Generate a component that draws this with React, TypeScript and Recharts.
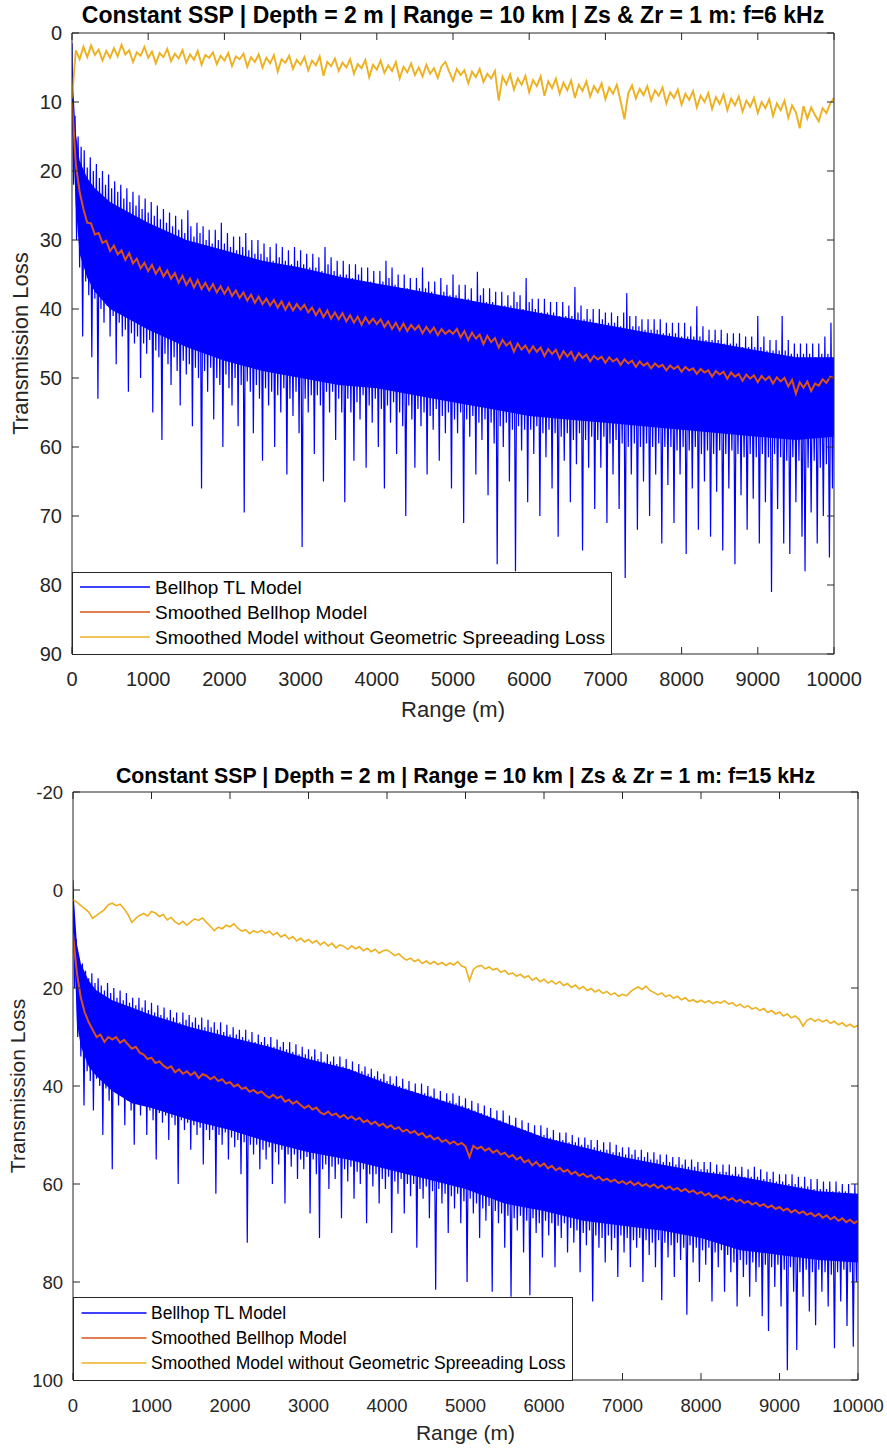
import React from 'react';
import { ComposedChart, Line, Area, XAxis, YAxis } from 'recharts';

const FONT = '"Liberation Sans", Arial, Helvetica, sans-serif';
const AXIS = '#262626';
const BLUE = '#0000FF';
const ORANGE = '#D95319';
const YELLOW = '#EDB120';

// ---------- categories / ticks ----------
const rangeTicks = [0, 1000, 2000, 3000, 4000, 5000, 6000, 7000, 8000, 9000, 10000];
const tlTicks6 = [0, 10, 20, 30, 40, 50, 60, 70, 80, 90];
const tlTicks15 = [-20, 0, 20, 40, 60, 80, 100];
const legendNames = ['Bellhop TL Model', 'Smoothed Bellhop Model', 'Smoothed Model without Geometric Spreeading Loss'];
const title6 = 'Constant SSP | Depth = 2 m | Range = 10 km | Zs & Zr = 1 m: f=6 kHz';
const title15 = 'Constant SSP | Depth = 2 m | Range = 10 km | Zs & Zr = 1 m: f=15 kHz';
const xLabel = 'Range (m)';
const yLabel = 'Transmission Loss';

// ranges (m) at which the dense core of the Bellhop trace was read
const coreRange = [0, 50, 100, 200, 300, 500, 750, 1000, 1500, 2000, 2500, 3000, 3500, 4000, 4500, 5000, 5500, 6000, 6500, 7000, 7500, 8000, 8500, 9000, 9500, 10000];

// ---------- f = 6 kHz ----------
// Bellhop TL: peaks (r = 0, 40, 80 ...) and troughs (r = 20, 60, 100 ...)
const blueTop6 = [1.5, 12, 15, 16.5, 17, 19.5, 18, 20, 19, 21,
  20, 22, 20.5, 22.5, 21.5, 23, 22, 24, 22.5, 24.5,
  23, 25, 23.5, 25.5, 24, 26, 24.5, 26.5, 25, 27,
  25.5, 27.5, 26, 28, 26.5, 28.5, 27, 29, 25.7, 28,
  29.5, 27.5, 29, 28, 30, 28.5, 30.5, 28.5, 30, 27.5,
  30.5, 29, 31, 29.5, 31.5, 29.5, 31, 29, 31.5, 30,
  32, 30, 32, 30.5, 32.5, 31, 33, 30.5, 32.5, 31,
  33, 31.5, 33.5, 31, 33, 31.5, 33.5, 32, 34, 32,
  34, 32.5, 34.5, 31, 33.5, 32.5, 34.5, 33, 35, 33,
  35, 33.5, 35.5, 33.5, 35, 34, 36, 34, 36, 34.5,
  36.5, 34.5, 36, 33, 35.5, 34, 36.5, 35, 37, 35,
  37, 35.5, 37.5, 35.5, 37, 34, 37, 36, 37.5, 36,
  38, 35.5, 37.5, 36.5, 38, 35, 38, 36.5, 38.5, 36.5,
  38.5, 37, 39, 34.6, 38, 37, 39, 37, 39, 37.5,
  39.5, 37.5, 39.5, 38, 39.5, 37.5, 39, 38, 40, 35.5,
  39, 38.5, 40, 38.5, 40.5, 38.5, 40.5, 39, 40.5, 39,
  41, 39, 41, 39.5, 41, 36.8, 40.5, 39.5, 41.5, 40,
  41.5, 40, 42, 40, 41.5, 40.5, 42, 40.5, 42, 41,
  42.5, 40.5, 37.7, 41, 42.5, 41, 42.5, 41.5, 43, 41.5,
  43, 41.5, 43, 41.5, 43.5, 42, 43.5, 42, 43.5, 42,
  44, 42, 44, 42.5, 44, 39.6, 44, 42.5, 44.5, 43,
  44.5, 43, 44.5, 43, 45, 43.5, 45, 43.5, 45, 43.5,
  45.5, 44, 45.5, 44, 45.5, 41, 45.5, 44, 46, 44.5,
  46, 44.5, 46, 41, 46, 44.5, 46.5, 45, 46.5, 45,
  46.5, 45, 46.5, 45, 47, 45, 46.5, 44, 46.5, 42,
  48];
const blueBot6 = [22, 30, 34, 44, 36, 38, 47, 38.5, 53, 40,
  42, 39.5, 44, 41, 48, 42, 44, 43, 52, 43.5,
  45, 44, 50, 45, 46.5, 44.5, 55, 46, 47, 59,
  46.5, 48, 51, 47, 49, 54, 47.5, 49.5, 48, 57,
  48.5, 50, 66, 49, 52, 48.5, 56, 50, 51, 60,
  49.5, 51.5, 54, 50, 57, 51, 69.5, 50.5, 52, 58,
  51, 53, 62, 51.5, 54, 52, 60, 52.5, 55, 51.5,
  64, 53, 55.5, 52, 58, 74.5, 53, 55, 52.5, 61,
  52.5, 54, 65, 52, 55, 52, 59, 53, 55, 68,
  53, 55, 62, 53.5, 56, 52.5, 63, 54, 56.5, 53,
  60, 54.5, 66, 54, 56.5, 53.5, 61, 55, 57, 70,
  54, 56, 63, 54.5, 57, 55, 64, 55.5, 57.5, 54.5,
  62, 55.5, 58, 55, 66, 56, 58, 55, 71, 56,
  58.5, 55.5, 64, 56.5, 59, 56, 67, 56.5, 59.5, 77,
  57, 60, 56.5, 65, 57.5, 78, 57, 60.5, 57.5, 68,
  57.5, 61, 57, 70, 58, 61.5, 57.5, 66, 58, 73,
  58.5, 62, 58, 68, 59, 62.5, 58, 75, 59, 63,
  58.5, 69, 59, 63, 58.5, 71, 59.5, 64, 59, 69,
  59.5, 79, 60, 64, 59.5, 72, 60, 65, 59.5, 70,
  60, 64, 59.5, 74, 60, 65.5, 60, 71, 60.5, 64,
  60, 75.5, 60.5, 66, 60, 72, 61, 65, 60.5, 73,
  61, 66.5, 60.5, 75, 61, 66, 60.5, 77, 61, 67,
  61.5, 72, 61, 67.5, 61.5, 74, 61, 68, 61.5, 81,
  61, 69, 61.5, 74, 62, 75.5, 61.5, 68, 62, 73,
  78, 63, 69.5, 62, 74, 63, 70, 62.5, 76, 66];
// dense (solid) core of the Bellhop trace, at coreRange
const coreTop6 = [5, 14.5, 18.5, 21, 22.5, 24.5, 26, 27.5, 30, 31.5, 33, 34, 35.3, 36.3, 37.3, 38.3, 39.3, 40.3, 41.3, 42.3, 43.3, 44.2, 45, 46, 47, 47];
const coreBot6 = [12, 25, 32, 35.5, 37.5, 40, 41.5, 43, 45.5, 47.5, 49, 50, 51, 51.5, 52.5, 53.5, 54.5, 55.5, 56, 56.5, 57, 57.5, 58, 58.5, 59, 58.5];
// Smoothed, every 50 m
const orange6 = [10, 19, 23, 25.5, 27.5, 27.6, 29.2, 29, 30.4, 30.1, 31.6, 30.8, 32.1, 31.5, 32.9, 31.9, 33.4, 32.7, 34.1, 33.3,
  34.5, 33.6, 34.9, 34, 35.3, 34.4, 35.6, 34.8, 36.2, 35.2, 36.5, 35.6, 36.9, 35.8, 37.1, 36.2, 37.3, 36.4, 37.6, 36.7,
  37.8, 36.9, 38.1, 37.3, 38.4, 37.6, 38.8, 37.9, 39.1, 38.2, 39.3, 38.5, 39.5, 38.7, 39.8, 38.9, 40.1, 39.1, 40.2, 39.3,
  40.1, 39.4, 40.5, 39.8, 40.9, 40, 41.2, 40.2, 41.4, 40.5, 41.5, 40.6, 41.8, 40.9, 42, 41.1, 42.3, 41.2, 42.1, 41.4,
  42.2, 41.5, 42.6, 41.8, 42.9, 42, 43.1, 42.1, 43.2, 42.3, 43, 42.4, 43.5, 42.6, 43.4, 42.7, 43.8, 42.9, 43.6, 43.1,
  43.6, 42.9, 44.1, 43.2, 44.5, 43.4, 44.3, 43.7, 45.1, 43.9, 44.8, 44.2, 45.6, 44.5, 45.3, 44.8, 46.2, 45, 45.9, 45.3,
  46.3, 45.4, 46.2, 45.6, 46.8, 45.8, 46.5, 45.9, 47.2, 46.1, 46.9, 46.2, 47.4, 46.4, 47.1, 46.6, 47.6, 46.8, 47.3, 46.9,
  47.8, 47, 47.6, 47.2, 48.1, 47.3, 47.9, 47.5, 48.4, 47.6, 48.2, 47.8, 48.6, 47.9, 48.4, 48.1, 48.9, 48.2, 48.7, 48.3,
  49.1, 48.4, 48.9, 48.6, 49.4, 48.7, 49.2, 48.9, 49.8, 49, 49.5, 49.1, 50.1, 49.2, 49.8, 49.4, 50.4, 49.5, 50.1, 49.6,
  50.6, 49.7, 50.3, 49.8, 50.8, 49.9, 50.5, 50, 51.2, 50.3, 52.3, 50.6, 51.4, 50.5, 51.9, 50.8, 51.1, 50.2, 50.7, 49.8,
  50];
const yellow6 = [9.5, 2.5, 3.8, 2, 3.5, 1.8, 3.2, 2.4, 4, 2.6, 3.6, 2.2, 3.4, 1.7, 3.1, 2.5, 4.2, 2.8, 3.3, 2,
  3.6, 2.7, 4.4, 2.9, 3.5, 2.3, 4.1, 3, 3.7, 2.5, 4.3, 3.1, 3.9, 2.6, 4.6, 3.2, 3.6, 2.8, 4.5, 3.3,
  4, 2.9, 4.8, 3.4, 3.8, 3, 4.9, 3.5, 4.2, 3.1, 5, 3.6, 4.4, 3.2, 5.6, 3.8, 4.3, 3.3, 5.2, 3.9,
  4.6, 3.5, 5.4, 4, 4.7, 3.4, 6.2, 4.2, 4.8, 3.7, 5.5, 4.3, 5, 3.8, 5.9, 4.5, 5.1, 3.9, 6.4, 4.6,
  5.3, 4, 5.8, 4.7, 5.5, 4.2, 6.6, 4.9, 5.7, 4.4, 6.1, 5, 6.3, 4.6, 5.9, 5.1, 6.5, 4.8, 4.2, 5.6,
  6.9, 5.2, 6.1, 5.4, 7.3, 5.6, 6.4, 5.2, 7.1, 5.9, 6.6, 5.5, 9.8, 6.3, 7.4, 6, 8.2, 6.6, 7.5, 6.2,
  8.6, 6.8, 7.7, 6.3, 9.1, 7, 8, 6.6, 8.8, 7.2, 8.3, 6.9, 9.4, 7.5, 8.4, 7, 9.2, 7.7, 8.6, 7.3,
  9.6, 7.9, 8.8, 7.5, 9.9, 12.5, 8.7, 7.6, 9.5, 8.1, 9, 7.7, 9.8, 8.3, 9.1, 7.9, 10.2, 8.6, 9.4, 8.2,
  10.4, 8.8, 9.7, 8.4, 10.8, 9.1, 10, 8.7, 11, 9.3, 10.3, 8.9, 11.2, 9.5, 10.5, 9.2, 11.4, 9.8, 10.7, 9.4,
  11.6, 10, 10.9, 9.6, 12, 10.2, 11.2, 9.8, 12.3, 10.5, 11.5, 13.8, 10.6, 12.4, 10.8, 11.9, 12.8, 10.9, 11.6, 10.2,
  9.4];

// ---------- f = 15 kHz ----------
const blueTop15 = [-2, 10, 14, 15, 16.5, 18, 17, 19, 18, 19.5,
  20.5, 19, 21, 20, 22, 20.5, 22.5, 21, 23, 22,
  23.5, 22, 24, 22.5, 24.5, 23, 25, 23.5, 25.5, 24,
  26, 24.5, 26, 25, 27, 25, 26.5, 25.5, 27, 26,
  27.5, 26, 28, 26.5, 28, 27, 28.5, 27, 29, 27.5,
  29.5, 28, 29.5, 28.5, 30, 28.5, 30.5, 29, 31, 29.5,
  31, 30, 31.5, 30, 32, 30.5, 32, 31, 32.5, 31,
  33, 31.5, 33.5, 32, 33.5, 32.5, 34, 32.5, 34.5, 33,
  35, 33.5, 35, 34, 35.5, 34, 36, 34.5, 36.5, 35,
  37, 35.5, 37, 36, 37.5, 36.5, 38, 37, 38.5, 37.5,
  39, 38, 39.5, 38, 40, 38.5, 40.5, 39, 41, 39.5,
  41.5, 39.5, 41.5, 40, 42, 40.5, 42.5, 41, 43, 41.5,
  43, 41.5, 43.5, 42, 44, 42.5, 44.5, 43, 45, 43.5,
  45.5, 44, 46, 44.5, 46.5, 45, 47, 45, 47.5, 46,
  48, 46.5, 48.5, 47, 49, 47.5, 49.5, 48, 50, 48,
  50, 48.5, 50.5, 49, 51, 49.5, 51, 49.5, 51.5, 50,
  51.5, 50.5, 52, 50.5, 52, 51, 52.5, 51, 53, 51.5,
  53, 51.5, 53.5, 52, 53.5, 52.5, 54, 52.5, 54, 53,
  54.5, 53, 54.5, 53.5, 55, 53.5, 55, 54, 55.5, 54,
  55.5, 54.5, 56, 54.5, 56, 55, 56.5, 55, 56.5, 55.5,
  57, 55.5, 57, 55.5, 57.5, 56, 57.5, 56, 57.5, 56,
  58, 56.5, 58, 56.5, 58.5, 57, 58.5, 56.5, 58.5, 57,
  59, 57.5, 59, 57.5, 59.5, 58, 59.5, 58, 60, 58,
  60, 58.5, 60.5, 58.5, 60.5, 59, 61, 59, 61, 59.5,
  61, 59.5, 61.5, 59.5, 61.5, 60, 61.5, 60, 62, 60,
  62];
const blueBot15 = [20, 30, 34, 44, 37, 39, 45, 38.5, 40, 50,
  40.5, 43, 57, 41, 44, 42, 48, 43, 45, 52,
  43.5, 46, 44, 50, 45, 47, 55, 45.5, 47.5, 46,
  51, 46.5, 48, 60, 47, 49, 47.5, 53, 48, 50,
  48.5, 56, 49, 51, 49, 62, 50, 52, 49.5, 55,
  50.5, 52.5, 51, 58, 51.5, 72, 52, 54, 52, 57,
  53, 55, 52.5, 60, 53.5, 56, 53, 64, 54, 56.5,
  54, 59, 55, 57, 54.5, 66, 55, 58, 71, 57,
  56, 61, 56.5, 59, 56, 67, 57, 59.5, 56.5, 63,
  57.5, 60, 57, 68, 58, 60.5, 58, 64, 59, 61,
  58.5, 70, 59.5, 62, 59, 66, 60, 62.5, 60, 73,
  61, 63, 60.5, 67, 61.5, 81.6, 61, 64, 62, 70,
  62.5, 65, 62, 68, 63.5, 80, 63, 66, 64, 71,
  65, 67.5, 64.5, 82, 65.5, 68, 66, 73, 66.5, 83,
  67, 69.5, 66.5, 74, 67.5, 82.7, 67, 70, 68, 75,
  67.5, 70.5, 68, 77, 68.5, 71, 68, 74, 69, 72,
  69.5, 78, 70, 72.5, 69.5, 84, 70.5, 73, 71, 76,
  70.5, 73.5, 71, 79, 70.5, 74, 71, 77, 71.5, 73,
  71, 80, 71.5, 74.5, 72, 77, 71.5, 83.7, 72, 75,
  72.5, 79, 72, 75.5, 73, 86.7, 72.5, 76, 73, 80,
  73.5, 76.5, 73, 84, 74, 77, 73.5, 82, 74.5, 78,
  76, 85, 75.5, 79, 76.5, 83, 76, 80, 77, 87,
  76.5, 90, 77, 81, 76.5, 85, 77.5, 98, 77, 82,
  93.9, 78, 83, 77.5, 86, 78, 88.8, 77.5, 82, 78,
  85, 78.5, 93.5, 78, 84, 77.5, 89, 78, 93.2, 80];
const coreTop15 = [-1, 11, 15, 18.5, 20.5, 22.5, 24, 25.5, 28, 30, 32, 34.5, 36.5, 39.5, 42, 44.5, 47.5, 50.5, 52.5, 54.5, 56, 57.5, 58.5, 60, 61.5, 62];
const coreBot15 = [5, 27, 32, 36, 38, 41, 43.5, 44.5, 47, 49, 51.5, 53.5, 55, 57, 59, 61, 64, 65.5, 67.5, 68.5, 69.5, 71, 73.5, 74.5, 75.5, 76];
const orange15 = [9, 17, 22, 25, 27, 28.5, 30, 29.5, 31, 30, 30.5, 30, 31.2, 30.6, 31.5, 32.4, 32, 33.2, 33.6, 34.5,
  34.2, 35.3, 35, 35.8, 36.4, 36, 37.2, 36.6, 37.5, 37, 37.8, 37.2, 38.4, 37.6, 37.9, 38.6, 38.1, 39, 38.6, 39.5,
  39.2, 40.1, 39.7, 40.6, 40.3, 41.2, 40.8, 41.5, 41.1, 41.9, 42.4, 41.8, 42.5, 42.1, 43.2, 42.8, 43.6, 43.1, 43.9, 44.5,
  44, 44.8, 44.4, 45.4, 45.8, 45.2, 46, 45.6, 46.4, 45.9, 46.7, 46.2, 46.9, 46.5, 47.4, 47, 47.8, 47.3, 48.1, 47.7,
  48.5, 48, 48.8, 48.4, 49.3, 48.9, 49.6, 49.2, 50, 49.6, 50.5, 50.1, 50.9, 50.5, 51.4, 51, 51.8, 51.3, 52, 51.6,
  52.3, 54.5, 52.2, 52.8, 52.4, 53.2, 52.7, 53.6, 53.1, 54, 53.6, 54.5, 54.1, 55, 54.5, 55.6, 55.1, 56.2, 55.5, 56.4,
  55.8, 56.8, 56.3, 57.2, 56.7, 57.5, 57.1, 58, 57.5, 58.3, 57.9, 58.6, 58.2, 59, 58.5, 59.3, 58.9, 59.5, 59.1, 59.8,
  59.4, 60, 59.5, 60.2, 59.7, 60.4, 60, 60.6, 60.1, 60.8, 60.3, 61, 60.5, 61.2, 60.8, 61.5, 61, 61.7, 61.3, 62,
  61.6, 62.3, 61.9, 62.7, 62.3, 63, 62.6, 63.3, 62.9, 63.6, 63.2, 63.9, 63.5, 64.2, 63.8, 64.5, 64.1, 64.8, 64.4, 65.1,
  64.7, 65.4, 65, 65.8, 65.3, 66, 65.6, 66.3, 65.9, 66.6, 66.1, 66.9, 66.4, 67.2, 66.7, 67.5, 67, 67.8, 67.3, 68,
  67.5];
const yellow15 = [2, 2.5, 3.2, 3.8, 4.5, 5.8, 5.2, 4.6, 4, 3, 2.7, 3.2, 2.9, 3.8, 5, 6.6, 5.8, 5.2, 4.8, 5.3,
  4.4, 4.7, 5.4, 5, 6.1, 5.6, 6.5, 7, 6.4, 7.2, 6.5, 5.9, 6.2, 5.7, 6.6, 7.4, 8.3, 7.6, 7.9, 7.2,
  7.5, 6.9, 7.8, 8.4, 8.1, 8.9, 8.3, 8.7, 8.2, 8.8, 8.4, 9.2, 8.7, 9.6, 9.1, 10, 9.5, 10.4, 9.8, 10.6,
  10.1, 10.8, 10.3, 11.2, 10.6, 11.4, 10.9, 11.8, 11.2, 11.5, 12.1, 11.4, 12, 11.6, 12.4, 11.9, 12.6, 12.1, 12.9, 12.4,
  12.2, 12.8, 13.4, 13, 13.8, 14.3, 13.9, 14.6, 14.2, 15, 14.5, 15.1, 14.6, 15.2, 14.8, 15.4, 14.9, 15.3, 14.6, 15.5,
  15.8, 18.5, 16.2, 15.6, 15.4, 16.1, 15.7, 16.3, 16, 16.8, 16.4, 17.2, 16.9, 17.6, 17.2, 17.9, 17.5, 18.4, 17.9, 18.7,
  18.2, 19, 18.5, 19.2, 18.7, 19.5, 19.1, 19.9, 19.4, 20.2, 19.7, 20.5, 20.1, 20.8, 20.4, 21.1, 20.7, 21.4, 21, 21.7,
  21.3, 21.6, 20.8, 20.2, 19.8, 20.3, 19.6, 20.5, 20.9, 21.4, 21, 21.8, 21.4, 22.1, 21.7, 22.4, 22, 22.7, 22.4, 22.9,
  22.5, 23, 22.6, 23.2, 22.8, 23.1, 22.6, 23.3, 23, 23.7, 23.3, 24, 23.6, 24.3, 24, 24.6, 24.2, 25, 24.6, 25.3,
  24.9, 25.7, 25.3, 26.1, 25.7, 26.4, 27.8, 26.6, 26.2, 26.8, 26.4, 26.9, 26.5, 27.2, 26.8, 27.5, 27.1, 27.8, 27.4, 28,
  27.6];

// ---------- tables built from the arrays ----------
const SMOOTH_STEP = 50;
const RAW_STEP = 20;
type Pt = { r: number; v: number };
const toSeries = (vals: number[], step: number): Pt[] => vals.map((v, i) => ({ r: i * step, v }));
const interleave = (tops: number[], bots: number[], step: number): Pt[] => {
  const out: Pt[] = [];
  tops.forEach((t, k) => {
    out.push({ r: 2 * k * step, v: t });
    if (k < bots.length) out.push({ r: (2 * k + 1) * step, v: bots[k] });
  });
  return out;
};
const toBand = (tops: number[], bots: number[]) => coreRange.map((r, i) => ({ r, band: [tops[i], bots[i]] }));

type PanelCfg = {
  top: number; W: number; H: number;
  left: number; ptop: number; right: number; bottom: number;
  yDomain: [number, number]; yTicks: number[];
  tickFs: number; labelFs: number; titleFs: number; legendFs: number;
  title: string;
  blue: Pt[]; core: { r: number; band: number[] }[]; orange: Pt[]; yellow: Pt[];
  yellowW: number;
  legend: { x: number; y: number; w: number; h: number; rows: number[]; lx1: number; lx2: number; tx: number };
  yLabelX: number; xLabelY: number; titleY: number;
};

const panels: PanelCfg[] = [
  {
    top: 0, W: 887, H: 740, left: 72, ptop: 33, right: 834, bottom: 654,
    yDomain: [0, 90], yTicks: tlTicks6,
    tickFs: 20, labelFs: 22, titleFs: 23, legendFs: 19, title: title6,
    blue: interleave(blueTop6, blueBot6, RAW_STEP), core: toBand(coreTop6, coreBot6),
    orange: toSeries(orange6, SMOOTH_STEP), yellow: toSeries(yellow6, SMOOTH_STEP), yellowW: 1.9,
    legend: { x: 72, y: 572, w: 539, h: 82, rows: [587, 612, 637], lx1: 80, lx2: 150, tx: 155 },
    yLabelX: 28, xLabelY: 717, titleY: 23,
  },
  {
    top: 740, W: 887, H: 709, left: 73, ptop: 52, right: 858, bottom: 640,
    yDomain: [-20, 100], yTicks: tlTicks15,
    tickFs: 18.5, labelFs: 21, titleFs: 21.3, legendFs: 17.5, title: title15,
    blue: interleave(blueTop15, blueBot15, RAW_STEP), core: toBand(coreTop15, coreBot15),
    orange: toSeries(orange15, SMOOTH_STEP), yellow: toSeries(yellow15, SMOOTH_STEP), yellowW: 1.6,
    legend: { x: 73, y: 1297, w: 499, h: 83, rows: [1313, 1338, 1363], lx1: 81.5, lx2: 146.5, tx: 151 },
    yLabelX: 25, xLabelY: 1440, titleY: 783,
  },
];

const TICK = 7;

function Panel({ p }: { p: PanelCfg }) {
  const xAxisH = 40;
  const margin = { top: p.ptop - 1, right: p.W - p.right - 1, bottom: p.H - p.bottom - xAxisH, left: 0 };
  const xTick = (props: any) => {
    const { x, payload } = props;
    return (
      <g>
        <line x1={x} x2={x} y1={p.bottom} y2={p.bottom - TICK} stroke={AXIS} strokeWidth={1} />
        <text x={x} y={p.bottom + 32} textAnchor="middle" fontSize={p.tickFs} fontFamily={FONT} fill={AXIS}>{payload.value}</text>
      </g>
    );
  };
  const xTopTick = (props: any) => {
    const { x } = props;
    return <line x1={x} x2={x} y1={p.ptop} y2={p.ptop + TICK} stroke={AXIS} strokeWidth={1} />;
  };
  const yTick = (props: any) => {
    const { y, payload } = props;
    return (
      <g>
        <line x1={p.left} x2={p.left + TICK} y1={y} y2={y} stroke={AXIS} strokeWidth={1} />
        <text x={p.left - 10} y={y} dy="0.36em" textAnchor="end" fontSize={p.tickFs} fontFamily={FONT} fill={AXIS}>{payload.value}</text>
      </g>
    );
  };
  const yRightTick = (props: any) => {
    const { y } = props;
    return <line x1={p.right} x2={p.right - TICK} y1={y} y2={y} stroke={AXIS} strokeWidth={1} />;
  };
  return (
    <div style={{ position: 'absolute', left: 0, top: p.top, width: p.W, height: p.H }}>
      <ComposedChart width={p.W} height={p.H} margin={margin}>
        <XAxis xAxisId="b" type="number" dataKey="r" domain={[0, 10000]} ticks={rangeTicks} interval={0}
          height={xAxisH} tickLine={false} tickSize={0} axisLine={{ stroke: AXIS, strokeWidth: 1 }} tick={xTick} allowDataOverflow />
        <XAxis xAxisId="t" orientation="top" type="number" dataKey="r" domain={[0, 10000]} ticks={rangeTicks} interval={0}
          height={1} tickLine={false} tickSize={0} axisLine={{ stroke: AXIS, strokeWidth: 1 }} tick={xTopTick} allowDataOverflow />
        <YAxis yAxisId="l" type="number" domain={p.yDomain} reversed ticks={p.yTicks} interval={0}
          width={p.left} tickLine={false} tickSize={0} axisLine={{ stroke: AXIS, strokeWidth: 1 }} tick={yTick} allowDataOverflow />
        <YAxis yAxisId="r" orientation="right" type="number" domain={p.yDomain} reversed ticks={p.yTicks} interval={0}
          width={1} tickLine={false} tickSize={0} axisLine={{ stroke: AXIS, strokeWidth: 1 }} tick={yRightTick} allowDataOverflow />
        <Area xAxisId="b" yAxisId="l" data={p.core} dataKey="band" type="linear" stroke="none" fill={BLUE} fillOpacity={1}
          legendType="none" isAnimationActive={false} activeDot={false} dot={false} />
        <Line xAxisId="b" yAxisId="l" data={p.blue} dataKey="v" name={legendNames[0]} type="linear" stroke={BLUE}
          strokeWidth={1.2} dot={false} activeDot={false} isAnimationActive={false} />
        <Line xAxisId="b" yAxisId="l" data={p.orange} dataKey="v" name={legendNames[1]} type="linear" stroke={ORANGE}
          strokeWidth={2} dot={false} activeDot={false} isAnimationActive={false} />
        <Line xAxisId="b" yAxisId="l" data={p.yellow} dataKey="v" name={legendNames[2]} type="linear" stroke={YELLOW}
          strokeWidth={p.yellowW} dot={false} activeDot={false} isAnimationActive={false} />
      </ComposedChart>
    </div>
  );
}

function Overlay() {
  const colors = [BLUE, ORANGE, YELLOW];
  return (
    <svg width={887} height={1449} style={{ position: 'absolute', left: 0, top: 0, pointerEvents: 'none' }}>
      {panels.map((p, i) => {
        const cx = (p.left + p.right) / 2;
        const cy = p.top + (p.ptop + p.bottom) / 2;
        const L = p.legend;
        return (
          <g key={i}>
            <text x={cx} y={p.titleY} textAnchor="middle" fontSize={p.titleFs} fontWeight="bold" fontFamily={FONT} fill="#000">{p.title}</text>
            <text x={cx} y={p.xLabelY} textAnchor="middle" fontSize={p.labelFs} fontFamily={FONT} fill={AXIS}>{xLabel}</text>
            <text x={p.yLabelX} y={cy} textAnchor="middle" fontSize={p.labelFs} fontFamily={FONT} fill={AXIS}
              transform={`rotate(-90 ${p.yLabelX} ${cy})`}>{yLabel}</text>
            <rect x={L.x + 0.5} y={L.y + 0.5} width={L.w} height={L.h} fill="#fff" stroke={AXIS} strokeWidth={1} />
            {legendNames.map((n, j) => (
              <g key={j}>
                <line x1={L.lx1} x2={L.lx2} y1={L.rows[j]} y2={L.rows[j]} stroke={colors[j]} strokeWidth={1.5} />
                <text x={L.tx} y={L.rows[j]} dy="0.36em" fontSize={p.legendFs} fontFamily={FONT} fill="#000">{n}</text>
              </g>
            ))}
          </g>
        );
      })}
    </svg>
  );
}

export default function App() {
  return (
    <div style={{ position: 'absolute', left: 0, top: 0, width: 887, height: 1449, background: '#fff' }}>
      {panels.map((p, i) => <Panel key={i} p={p} />)}
      <Overlay />
    </div>
  );
}
